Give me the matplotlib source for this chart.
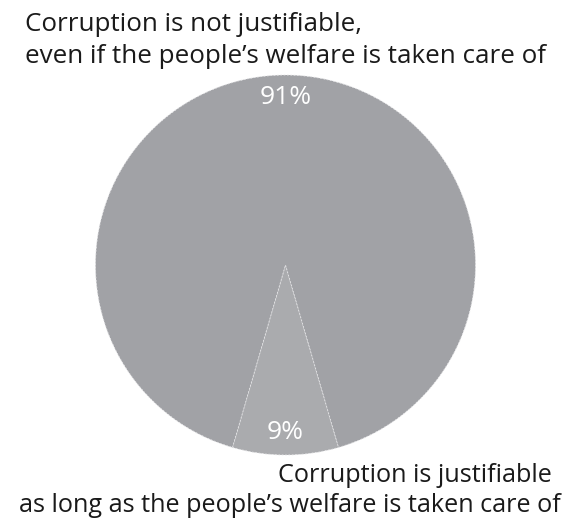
import matplotlib; matplotlib.use("Agg")
import matplotlib.pyplot as plt
import numpy as np

# Survey result: is corruption justifiable if welfare is taken care of?
shares = [9, 91]
pct_labels = ["9%", "91%"]
colors = ["#aaabae", "#a1a2a6"]

top_lines = ["Corruption is not justifiable,",
             "even if the people\u2019s welfare is taken care of"]
bottom_lines = ["Corruption is justifiable",
                "as long as the people\u2019s welfare is taken care of"]

W, H = 567, 520
CX, CY, R = 285.5, 255, 190
FONT = "Open Sans"

fig = plt.figure(figsize=(W / 100, H / 100), dpi=100)
ax = fig.add_axes([0, 0, 1, 1])

# small slice centred at the bottom
start = 270 - shares[0] / sum(shares) * 360 / 2
ax.pie(shares, colors=colors, startangle=start, center=(CX, CY), radius=R, frame=True,
       wedgeprops=dict(edgecolor="#e6e6e8", linewidth=0.6, linestyle=(0, (2, 2))))
ax.set_xlim(0, W); ax.set_ylim(0, H)
ax.set_aspect("equal"); ax.axis("off")

# percentage labels inside the slices
tot = sum(shares)
ang = start
for s, lab in zip(shares, pct_labels):
    mid = np.deg2rad(ang + s / tot * 180)
    ang += s / tot * 360
    ax.text(CX + 0.88 * R * np.cos(mid), CY + 0.88 * R * np.sin(mid), lab,
            color="white", fontsize=19, family=FONT, weight="medium",
            ha="center", va="center")

for i, t in enumerate(top_lines):
    ax.text(25, H - 31 - i * 32, t, fontsize=18.7, family=FONT, color="#1a1a1a",
            ha="left", va="baseline")
ax.text(552, H - 482, bottom_lines[0], fontsize=18.2, family=FONT, color="#1a1a1a",
        ha="right", va="baseline")
ax.text(561, H - 512, bottom_lines[1], fontsize=18.2, family=FONT, color="#1a1a1a",
        ha="right", va="baseline")

fig.savefig("out.png", dpi=100)
